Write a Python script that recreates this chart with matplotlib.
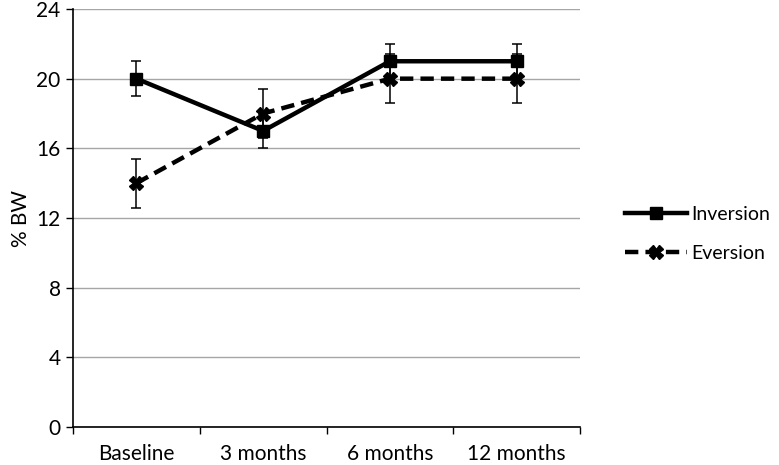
import numpy as np
import matplotlib.pyplot as plt

# data
time_points = ["Baseline", "3 months", "6 months", "12 months"]
inversion = [20, 17, 21, 21]
inversion_err = [1.0, 1.0, 1.0, 1.0]
eversion = [14, 18, 20, 20]
eversion_err = [1.4, 1.4, 1.4, 1.4]
y_ticks = [0, 4, 8, 12, 16, 20, 24]

plt.rcParams["font.family"] = ["Lato", "DejaVu Sans"]

fig = plt.figure(figsize=(7.79, 4.65), dpi=100)
ax = fig.add_axes([73 / 779, 38 / 465, 507 / 779, 418 / 465])

x = np.arange(len(time_points))

# gridlines behind the data
ax.set_axisbelow(True)
ax.yaxis.grid(True, color="#a6a6a6", linewidth=1.0)

# error bars first, kept out of the legend
ax.errorbar(x, inversion, yerr=inversion_err, fmt="none", ecolor="black",
            elinewidth=1.1, capsize=3.5, capthick=1.1, zorder=2)
ax.errorbar(x, eversion, yerr=eversion_err, fmt="none", ecolor="black",
            elinewidth=1.1, capsize=3.5, capthick=1.1, zorder=2)

ax.plot(x, inversion, color="black", linewidth=3.2, marker="s", markersize=9,
        label="Inversion", zorder=3)
ax.plot(x, eversion, color="black", linewidth=3.2, linestyle=(0, (3.0, 1.6)),
        marker="X", markersize=9.5, label="Eversion", zorder=3)

ax.set_xlim(-0.5, len(time_points) - 0.5)
ax.set_ylim(0, 24)
ax.set_yticks(y_ticks)
ax.set_xticks(x)
ax.set_xticklabels(time_points)
# category boundary tick marks as in the original
ax.set_xticks(np.arange(-0.5, len(time_points)), minor=True)
ax.tick_params(axis="x", which="major", length=0, pad=12, labelsize=15)
ax.tick_params(axis="x", which="minor", length=5, direction="out", width=1)
ax.tick_params(axis="y", length=5, direction="out", width=1, labelsize=15, pad=4)

ax.spines["top"].set_visible(False)
ax.spines["right"].set_visible(False)
ax.spines["left"].set_linewidth(1.2)
ax.spines["bottom"].set_linewidth(1.2)

ax.set_ylabel("% BW", fontsize=15, labelpad=4)

handles, labels = ax.get_legend_handles_labels()
leg = fig.legend(handles, labels, loc="center left", bbox_to_anchor=(625 / 779, 1 - 234 / 465),
                 frameon=False, fontsize=14, handlelength=3.2, labelspacing=1.1,
                 handletextpad=0.2, borderaxespad=0, borderpad=0)

fig.savefig("out.png", dpi=100)
